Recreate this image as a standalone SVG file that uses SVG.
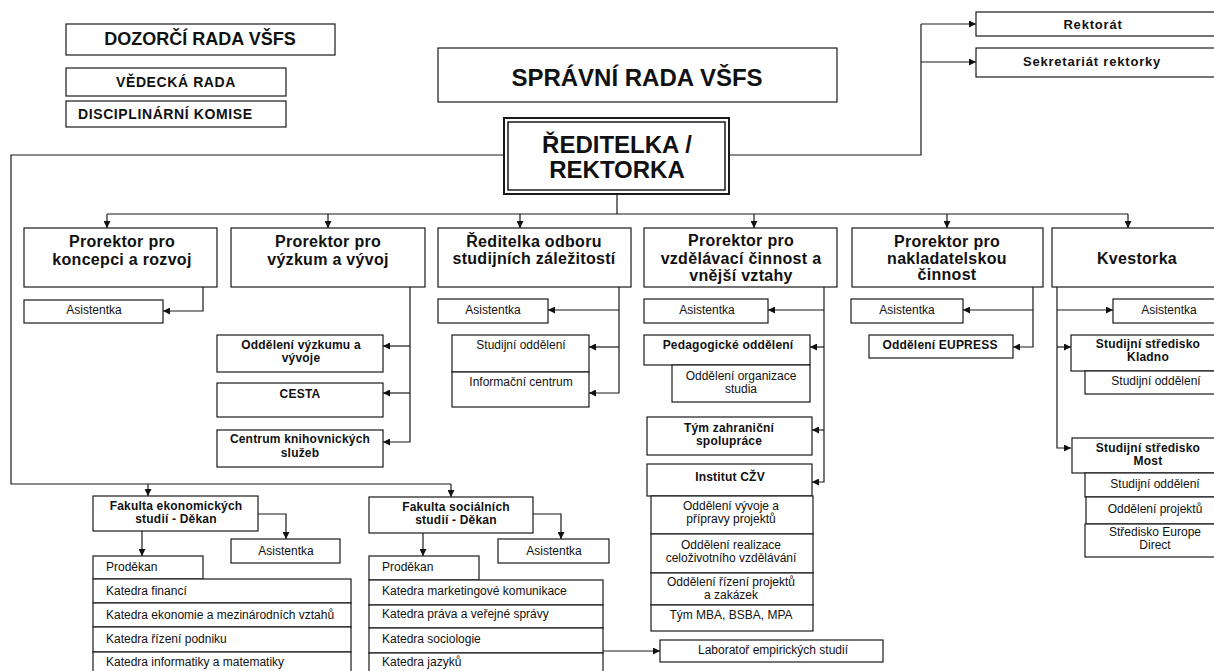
<svg xmlns="http://www.w3.org/2000/svg" width="1214" height="671" viewBox="0 0 1214 671">
<defs>
<marker id="ah" viewBox="0 0 8 8" refX="8" refY="4" markerWidth="8" markerHeight="7" markerUnits="userSpaceOnUse" orient="auto">
<path d="M0,0 L8,4 L0,8 z" fill="#111"/>
</marker>
<style>
.box{fill:#fff;stroke:#1a1a1a;stroke-width:1.2}
.ln{fill:none;stroke:#1a1a1a;stroke-width:1.2}
.ar{marker-end:url(#ah)}
text{font-family:"Liberation Sans",Arial,sans-serif;fill:#111}
.c{text-anchor:middle}
.h24{font-size:24px;font-weight:bold}
.h18{font-size:18px;font-weight:bold}
.h14{font-size:14px;font-weight:bold;letter-spacing:0.6px}
.h13{font-size:13px;font-weight:bold;letter-spacing:0.8px}
.h16{font-size:16px;font-weight:bold;letter-spacing:0.3px}
.b12{font-size:12px;font-weight:bold;letter-spacing:0.2px}
.r12{font-size:12px}
</style>
</defs>
<rect width="1214" height="671" fill="#fff"/>

<g id="connectors">
<path class="ln" d="M504,155 H11 V484 H451"/>
<path class="ln ar" d="M451,484 V497"/>
<path class="ln ar" d="M148,484 V496"/>
<path class="ln" d="M729,155 H921 V24"/>
<path class="ln ar" d="M921,24 H976"/>
<path class="ln ar" d="M921,62 H976"/>
<path class="ln" d="M617,194 V214 M107,214 H1128"/>
<path class="ln ar" d="M107,214 V228"/>
<path class="ln ar" d="M328,214 V228"/>
<path class="ln ar" d="M520,214 V228"/>
<path class="ln ar" d="M754,214 V228"/>
<path class="ln ar" d="M947,214 V228"/>
<path class="ln ar" d="M1128,214 V228"/>
<path class="ln ar" d="M203,287 V311 H163"/>
<path class="ln ar" d="M410,287 V442 H383"/>
<path class="ln ar" d="M410,346 H383"/>
<path class="ln ar" d="M410,393 H383"/>
<path class="ln ar" d="M619,287 V393 H589"/>
<path class="ln ar" d="M619,310 H548"/>
<path class="ln ar" d="M619,347 H589"/>
<path class="ln ar" d="M824,287 V482 H812"/>
<path class="ln ar" d="M824,310 H768"/>
<path class="ln ar" d="M824,347 H810"/>
<path class="ln ar" d="M824,430 H812"/>
<path class="ln ar" d="M1033,287 V347 H1013"/>
<path class="ln ar" d="M1033,310 H963"/>
<path class="ln ar" d="M1057,287 V448 H1071"/>
<path class="ln ar" d="M1057,310 H1113"/>
<path class="ln ar" d="M1057,347 H1071"/>
<path class="ln ar" d="M258,514 H286 V539"/>
<path class="ln ar" d="M142,531 V556"/>
<path class="ln ar" d="M533,514 H561 V539"/>
<path class="ln ar" d="M423,533 V556"/>
<path class="ln ar" d="M603,651 H660"/>
</g>

<g id="dozorci"><rect class="box" x="66" y="24" width="269" height="31"/><text class="c h18" x="200" y="45">DOZORČÍ RADA VŠFS</text></g>
<g id="vedecka"><rect class="box" x="66" y="68" width="220" height="28"/><text class="c h14" x="176" y="87">VĚDECKÁ RADA</text></g>
<g id="disciplinarni"><rect class="box" x="66" y="101" width="220" height="26"/><text class="h14" x="78" y="119">DISCIPLINÁRNÍ KOMISE</text></g>
<g id="spravni"><rect class="box" x="438" y="48" width="399" height="54"/><text class="c h24" x="637" y="86">SPRÁVNÍ RADA VŠFS</text></g>
<g id="reditelka">
<rect x="504" y="118" width="225" height="76" fill="#fff" stroke="#1a1a1a" stroke-width="2"/>
<rect x="508" y="122" width="217" height="68" fill="none" stroke="#1a1a1a" stroke-width="1.5"/>
<text class="c h24" x="617"><tspan x="617" y="153">ŘEDITELKA /</tspan><tspan x="617" y="178">REKTORKA</tspan></text>
</g>
<g id="rektorat"><rect class="box" x="976" y="12" width="246" height="24"/><text class="c h13" x="1093" y="29">Rektorát</text></g>
<g id="sekretariat"><rect class="box" x="976" y="48" width="246" height="29"/><text class="c h13" x="1092" y="66">Sekretariát rektorky</text></g>

<g id="prorektor-koncepce"><rect class="box" x="24" y="228" width="193" height="59"/><text class="c h16"><tspan x="122" y="247">Prorektor pro</tspan><tspan x="122" y="265">koncepci a rozvoj</tspan></text></g>
<g id="prorektor-vyzkum"><rect class="box" x="231" y="228" width="194" height="59"/><text class="c h16"><tspan x="328" y="247">Prorektor pro</tspan><tspan x="328" y="265">výzkum a vývoj</tspan></text></g>
<g id="reditelka-odboru"><rect class="box" x="438" y="228" width="193" height="59"/><text class="c h16"><tspan x="534" y="247">Ředitelka odboru</tspan><tspan x="534" y="264">studijních záležitostí</tspan></text></g>
<g id="prorektor-vzdelavani"><rect class="box" x="644" y="228" width="193" height="59"/><text class="c h16"><tspan x="741" y="246">Prorektor pro</tspan><tspan x="741" y="264">vzdělávací činnost a</tspan><tspan x="741" y="281">vnější vztahy</tspan></text></g>
<g id="prorektor-nakladatelstvi"><rect class="box" x="852" y="228" width="191" height="59"/><text class="c h16"><tspan x="947" y="247">Prorektor pro</tspan><tspan x="947" y="264">nakladatelskou</tspan><tspan x="947" y="280">činnost</tspan></text></g>
<g id="kvestorka"><rect class="box" x="1052" y="228" width="170" height="59"/><text class="c h16" x="1137" y="264">Kvestorka</text></g>

<g id="asistentka-1"><rect class="box" x="24" y="300" width="139" height="23"/><text class="c r12" x="94" y="314">Asistentka</text></g>
<g id="odd-vyzkumu"><rect class="box" x="217" y="335" width="166" height="37"/><text class="c b12"><tspan x="301" y="349">Oddělení výzkumu a</tspan><tspan x="301" y="362">vývoje</tspan></text></g>
<g id="cesta"><rect class="box" x="217" y="383" width="166" height="34"/><text class="c b12" x="300" y="398">CESTA</text></g>
<g id="centrum-knih"><rect class="box" x="217" y="430" width="166" height="37"/><text class="c b12"><tspan x="300" y="443">Centrum knihovnických</tspan><tspan x="300" y="457">služeb</tspan></text></g>

<g id="asistentka-3"><rect class="box" x="438" y="299" width="110" height="24"/><text class="c r12" x="493" y="314">Asistentka</text></g>
<g id="studijni-odd"><rect class="box" x="452" y="335" width="137" height="37"/><text class="c r12" x="521" y="349">Studijní oddělení</text></g>
<g id="info-centrum"><rect class="box" x="452" y="372" width="137" height="35"/><text class="c r12" x="521" y="386">Informační centrum</text></g>

<g id="asistentka-4"><rect class="box" x="644" y="299" width="124" height="24"/><text class="c r12" x="707" y="314">Asistentka</text></g>
<g id="pedagogicke"><rect class="box" x="644" y="335" width="166" height="30"/><text class="c b12" x="728" y="349">Pedagogické oddělení</text></g>
<g id="org-studia"><rect class="box" x="672" y="365" width="138" height="37"/><text class="c r12"><tspan x="741" y="380">Oddělení organizace</tspan><tspan x="741" y="393">studia</tspan></text></g>
<g id="zahranicni"><rect class="box" x="647" y="417" width="165" height="38"/><text class="c b12"><tspan x="729" y="432">Tým zahraniční</tspan><tspan x="729" y="445">spolupráce</tspan></text></g>
<g id="institut-czv"><rect class="box" x="647" y="464" width="165" height="32"/><text class="c b12" x="730" y="481">Institut CŽV</text></g>
<g id="odd-vyvoje"><rect class="box" x="651" y="496" width="162" height="38"/><text class="c r12"><tspan x="731" y="510">Oddělení vývoje a</tspan><tspan x="731" y="523">přípravy projektů</tspan></text></g>
<g id="odd-realizace"><rect class="box" x="651" y="534" width="162" height="39"/><text class="c r12"><tspan x="731" y="549">Oddělení realizace</tspan><tspan x="731" y="562">celoživotního vzdělávání</tspan></text></g>
<g id="odd-rizeni"><rect class="box" x="651" y="573" width="162" height="32"/><text class="c r12"><tspan x="731" y="586">Oddělení řízení projektů</tspan><tspan x="731" y="599">a zakázek</tspan></text></g>
<g id="tym-mba"><rect class="box" x="651" y="605" width="162" height="26"/><text class="c r12" x="731" y="619">Tým MBA, BSBA, MPA</text></g>

<g id="asistentka-5"><rect class="box" x="851" y="299" width="112" height="24"/><text class="c r12" x="907" y="314">Asistentka</text></g>
<g id="eupress"><rect class="box" x="869" y="335" width="144" height="23"/><text class="c b12" x="940" y="349">Oddělení EUPRESS</text></g>

<g id="asistentka-6"><rect class="box" x="1113" y="299" width="109" height="24"/><text class="c r12" x="1169" y="314">Asistentka</text></g>
<g id="kladno"><rect class="box" x="1071" y="335" width="151" height="36"/><text class="c b12"><tspan x="1148" y="348">Studijní středisko</tspan><tspan x="1148" y="361">Kladno</tspan></text></g>
<g id="kladno-studijni"><rect class="box" x="1085" y="371" width="137" height="23"/><text class="c r12" x="1156" y="385">Studijní oddělení</text></g>
<g id="most"><rect class="box" x="1072" y="438" width="150" height="35"/><text class="c b12"><tspan x="1148" y="452">Studijní středisko</tspan><tspan x="1148" y="465">Most</tspan></text></g>
<g id="most-studijni"><rect class="box" x="1085" y="473" width="137" height="24"/><text class="c r12" x="1155" y="488">Studijní oddělení</text></g>
<g id="most-projekty"><rect class="box" x="1086" y="497" width="136" height="27"/><text class="c r12" x="1155" y="513">Oddělení projektů</text></g>
<g id="europe-direct"><rect class="box" x="1085" y="524" width="137" height="33"/><text class="c r12"><tspan x="1155" y="536">Středisko Europe</tspan><tspan x="1155" y="549">Direct</tspan></text></g>

<g id="fakulta-ekonomickych"><rect class="box" x="93" y="496" width="165" height="35"/><text class="c b12"><tspan x="176" y="510">Fakulta ekonomických</tspan><tspan x="176" y="523">studií - Děkan</tspan></text></g>
<g id="fe-asistentka"><rect class="box" x="231" y="539" width="109" height="24"/><text class="c r12" x="286" y="555">Asistentka</text></g>
<g id="fe-katedry">
<rect class="box" x="93" y="556" width="110" height="23"/><text class="r12" x="106" y="571">Proděkan</text>
<rect class="box" x="93" y="579" width="258" height="24"/><text class="r12" x="106" y="595">Katedra financí</text>
<rect class="box" x="93" y="603" width="258" height="24"/><text class="r12" x="106" y="619">Katedra ekonomie a mezinárodních vztahů</text>
<rect class="box" x="93" y="627" width="258" height="25"/><text class="r12" x="106" y="643">Katedra řízení podniku</text>
<rect class="box" x="93" y="652" width="258" height="30"/><text class="r12" x="106" y="666">Katedra informatiky a matematiky</text>
</g>

<g id="fakulta-socialnich"><rect class="box" x="369" y="497" width="164" height="36"/><text class="c b12"><tspan x="456" y="511">Fakulta sociálních</tspan><tspan x="456" y="524">studií - Děkan</tspan></text></g>
<g id="fs-asistentka"><rect class="box" x="498" y="539" width="111" height="24"/><text class="c r12" x="554" y="555">Asistentka</text></g>
<g id="fs-katedry">
<rect class="box" x="369" y="556" width="110" height="24"/><text class="r12" x="382" y="571">Proděkan</text>
<rect class="box" x="369" y="580" width="234" height="25"/><text class="r12" x="382" y="595">Katedra marketingové komunikace</text>
<rect class="box" x="369" y="605" width="234" height="23"/><text class="r12" x="382" y="618">Katedra práva a veřejné správy</text>
<rect class="box" x="369" y="628" width="234" height="25"/><text class="r12" x="382" y="643">Katedra sociologie</text>
<rect class="box" x="369" y="653" width="234" height="30"/><text class="r12" x="382" y="666">Katedra jazyků</text>
</g>
<g id="laborator"><rect class="box" x="660" y="640" width="223" height="22"/><text class="c r12" x="773" y="654">Laboratoř empirických studií</text></g>
</svg>
